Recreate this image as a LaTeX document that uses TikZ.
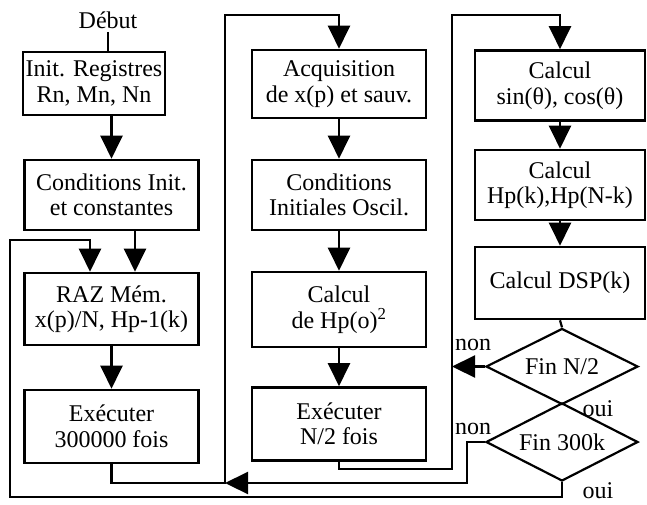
\documentclass[tikz,border=0pt]{standalone}
\usepackage{fontspec}
\setmainfont{Liberation Serif}
\usetikzlibrary{shapes.geometric,arrows.meta}

\begin{document}
\begin{tikzpicture}[x=1pt,y=-1pt,
  bloc/.style={draw,line width=2.6pt,align=center,minimum width=174pt,minimum height=70pt,inner sep=0pt},
  test/.style={draw,line width=2.2pt,shape=diamond,aspect=2,inner sep=0pt,minimum width=152pt,minimum height=76pt},
  fl/.style={line width=2.2pt,-{Triangle[width=22pt,length=23pt]}},
  lien/.style={line width=2.2pt},
  font=\fontsize{24}{25.5}\selectfont]
\useasboundingbox (0,0) rectangle (647,504);

\node (debut) at (108,20) {Début};
\node[bloc,minimum width=142pt,minimum height=63pt] (init) at (94,83.5) {Init. Registres\\Rn, Mn, Nn};
\node[bloc] (cond) at (111.5,195) {Conditions Init.\\et constantes};
\node[bloc,minimum height=72pt] (raz) at (111.5,309) {RAZ Mém.\\x(p)/N, Hp-1(k)};
\node[bloc,minimum height=73pt] (exec1) at (111.5,426.5) {Exécuter\\300000 fois};

\node[bloc,minimum height=68pt] (acq) at (339,84) {Acquisition\\de x(p) et sauv.};
\node[bloc] (osc) at (339,195) {Conditions\\Initiales Oscil.};
\node[bloc,minimum height=75pt] (calc) at (339,309.5) {Calcul\\de Hp(o)\textsuperscript{2}};
\node[bloc,minimum height=73pt] (exec2) at (339,424) {Exécuter\\N/2 fois};

\node[bloc,minimum width=170pt] (sincos) at (560,85.5) {Calcul\\sin(θ), cos(θ)};
\node[bloc,minimum width=170pt] (hp) at (560,185) {Calcul\\Hp(k),Hp(N-k)};
\node[bloc,minimum width=170pt,minimum height=72pt] (dsp) at (560,283) {Calcul DSP(k)};
\node[test] (finN) at (562,366.5) {Fin N/2};
\node[test,minimum height=78pt] (fin300) at (562,442) {Fin 300k};

\node (non1) at (473,345) {non};
\node (oui1) at (598,409) {oui};
\node (non2) at (473,429) {non};
\node (oui2) at (598,491) {oui};

\coordinate (gB) at (10,497);
\coordinate (gH) at (10,240);
\coordinate (jA) at (225,483);
\coordinate (hA) at (225,15);
\coordinate (jB) at (452,469);
\coordinate (hB) at (452,15);

\draw[lien] (debut) -- (debut |- init.north);
\draw[fl] (cond.north |- init.south) -- (cond.north);
\draw[fl] ([xshift=23.5pt]cond.south) -- ([xshift=23.5pt]raz.north);
\draw[fl] (raz.south) -- (exec1.north);
\draw[fl] (exec1.south) |- (jA) -- (hA) -| (acq.north);
\draw[fl] (fin300.south) |- (gB) -- (gH) -| ([xshift=-21.5pt]raz.north);
\draw[fl] (fin300.west) -- ++(-18,0) |- (jA);

\draw[fl] (acq.south) -- (osc.north);
\draw[fl] (osc.south) -- (calc.north);
\draw[fl] (calc.south) -- (exec2.north);
\draw[fl] (exec2.south) |- (jB) -- (hB) -| (sincos.north);

\draw[fl] (sincos.south) -- (hp.north);
\draw[fl] (hp.south) -- (dsp.north);
\draw[lien] (dsp.south) -- (finN.north);
\draw[fl] (finN.west) -- (finN.west -| jB);
\end{tikzpicture}
\end{document}
